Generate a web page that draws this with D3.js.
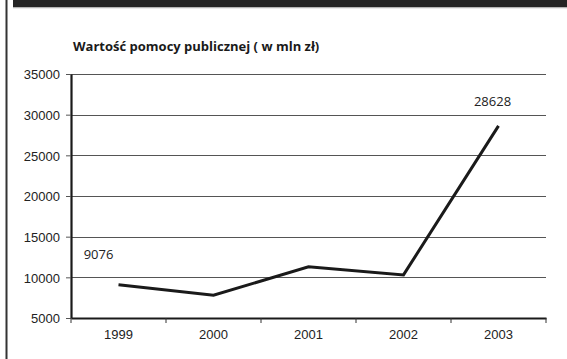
<!DOCTYPE html>
<html>
<head>
<meta charset="utf-8">
<script src="https://cdn.jsdelivr.net/npm/d3@7"></script>
<style>
  html, body { margin: 0; padding: 0; background: #fff; }
  svg { display: block; font-family: "Open Sans", sans-serif; }
</style>
</head>
<body>
<svg id="chart" width="567" height="359"></svg>
<script>
// Public aid value in PLN million, by year
const years = ["1999", "2000", "2001", "2002", "2003"];
const values = [9076, 7800, 11300, 10300, 28628];
const yTicks = [5000, 10000, 15000, 20000, 25000, 30000, 35000];
// Only the first and last points carry value labels
const labelledYears = ["1999", "2003"];
const chartTitle = "Wartość pomocy publicznej ( w mln zł)";

const svg = d3.select("#chart");
const W = 567, H = 359;
const plotLeft = 71, plotRight = 546, plotTop = 74, plotBottom = 318;

// Dark header strip and page rule on the left
svg.append("rect").attr("x", 13).attr("y", 0).attr("width", W - 13).attr("height", 7.5).attr("fill", "#252525");
svg.append("line").attr("x1", 13).attr("x2", W).attr("y1", 8).attr("y2", 8).attr("stroke", "#d8d8d8").attr("stroke-width", 1);
svg.append("line").attr("x1", 6.5).attr("x2", 6.5).attr("y1", 0).attr("y2", H).attr("stroke", "#333").attr("stroke-width", 2);

const x = d3.scaleBand().domain(years).range([plotLeft, plotRight]).padding(0);
const y = d3.scaleLinear().domain([5000, 35000]).range([plotBottom, plotTop]);

// Horizontal gridlines
svg.append("g")
  .selectAll("line")
  .data(yTicks.slice(1))
  .join("line")
  .attr("x1", plotLeft).attr("x2", plotRight)
  .attr("y1", d => Math.round(y(d)) + 0.5).attr("y2", d => Math.round(y(d)) + 0.5)
  .attr("stroke", "#555").attr("stroke-width", 1);

// Y axis
const yAxis = svg.append("g")
  .attr("transform", `translate(${plotLeft},0)`)
  .call(d3.axisLeft(y).tickValues(yTicks).tickSize(5).tickSizeOuter(0).tickPadding(6).tickFormat(d3.format("d")));
yAxis.select(".domain").attr("stroke", "#1a1a1a").attr("stroke-width", 2.2);
yAxis.selectAll(".tick line").attr("stroke", "#555");
yAxis.selectAll(".tick text").attr("fill", "#222").style("font-size", "13px").attr("dy", "0.36em");

// X axis with ticks between categories
const xAxis = svg.append("g")
  .attr("transform", `translate(0,${plotBottom})`)
  .call(d3.axisBottom(x).tickSize(0).tickPadding(12));
xAxis.select(".domain").attr("stroke", "#1a1a1a").attr("stroke-width", 2);
xAxis.selectAll(".tick text").attr("fill", "#222").style("font-size", "13px");
xAxis.append("g")
  .selectAll("line")
  .data(years.map(d => x(d)).concat([x(years[years.length - 1]) + x.bandwidth()]))
  .join("line")
  .attr("x1", d => d).attr("x2", d => d)
  .attr("y1", 0).attr("y2", 5)
  .attr("stroke", "#333").attr("stroke-width", 1);

// Data line
const line = d3.line()
  .x((d, i) => x(years[i]) + x.bandwidth() / 2)
  .y(d => y(d));
svg.append("path")
  .datum(values)
  .attr("d", line)
  .attr("fill", "none")
  .attr("stroke", "#1a1a1a")
  .attr("stroke-width", 3)
  .attr("stroke-linejoin", "miter");

// Value labels
svg.append("g")
  .selectAll("text")
  .data(years.map((yr, i) => ({ yr, v: values[i] })).filter(d => labelledYears.includes(d.yr)))
  .join("text")
  .attr("x", d => x(d.yr) + x.bandwidth() / 2 + (d.yr === "1999" ? -20 : -6))
  .attr("y", d => y(d.v) - (d.yr === "1999" ? 26 : 20))
  .attr("text-anchor", "middle")
  .attr("fill", "#222")
  .style("font-size", "13px")
  .text(d => d.v);

// Title
svg.append("text")
  .attr("x", 73).attr("y", 51)
  .attr("fill", "#1a1a1a")
  .style("font-size", "13px")
  .style("font-weight", "bold")
  .text(chartTitle);
</script>
</body>
</html>
